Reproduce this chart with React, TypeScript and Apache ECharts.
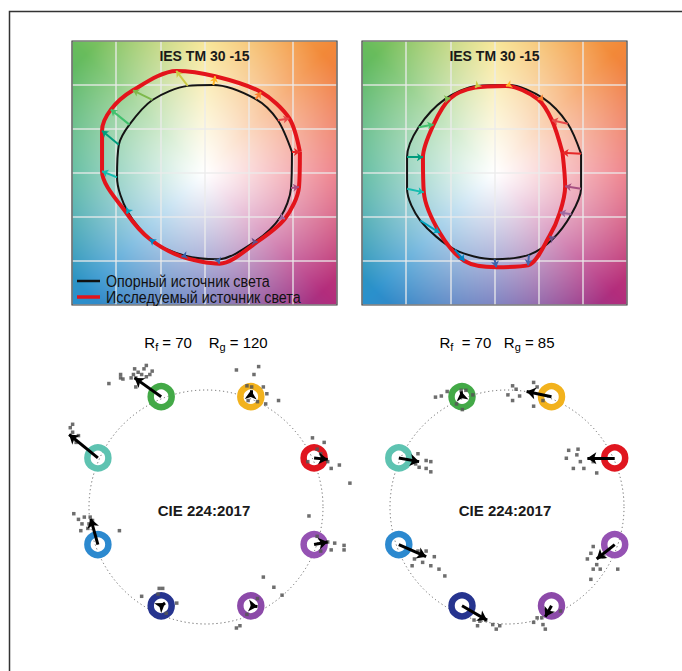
import React, { useEffect, useRef } from "react";
import * as echarts from "echarts";

// ---------- TM-30 hue bins (16) ----------
const binColors = ["#e62828", "#e74b4b", "#fb812e", "#ffb529", "#cbca46", "#7eb94c", "#41c06d", "#009c7c", "#16bcb0", "#00a4bf", "#0085c3", "#3b62aa", "#4568ae", "#6a4e85", "#9d69a1", "#a74f81"];

// left TM-30 panel (reference = black, test = red)
const leftRefX = [0.99, 0.83, 0.58, 0.1, -0.19, -0.59, -0.85, -0.97, -0.99, -0.87, -0.58, -0.22, 0.15, 0.57, 0.86, 0.98];
const leftRefY = [0.24, 0.6, 0.84, 1.0, 0.99, 0.83, 0.55, 0.32, -0.05, -0.44, -0.78, -0.94, -0.98, -0.78, -0.5, -0.17];
const leftTestX = [1.08, 0.96, 0.64, 0.12, -0.32, -0.81, -1.06, -1.16, -1.16, -0.88, -0.62, -0.26, 0.17, 0.6, 0.91, 1.07];
const leftTestY = [0.24, 0.62, 0.92, 1.1, 1.16, 0.94, 0.72, 0.48, 0.02, -0.46, -0.75, -0.95, -1.03, -0.78, -0.52, -0.16];

// right TM-30 panel
const rightRefX = [0.98, 0.83, 0.55, 0.16, -0.2, -0.56, -0.86, -0.99, -0.99, -0.84, -0.45, 0.0, 0.39, 0.66, 0.87, 0.98];
const rightRefY = [0.22, 0.56, 0.85, 1.0, 0.99, 0.84, 0.52, 0.18, -0.18, -0.54, -0.87, -0.98, -0.93, -0.75, -0.47, -0.18];
const rightTestX = [0.77, 0.65, 0.49, 0.13, -0.22, -0.5, -0.69, -0.81, -0.8, -0.62, -0.34, 0.02, 0.38, 0.62, 0.74, 0.8];
const rightTestY = [0.23, 0.6, 0.84, 0.99, 0.97, 0.85, 0.55, 0.18, -0.22, -0.68, -1.0, -1.07, -1.05, -0.72, -0.45, -0.15];

// ---------- CIE 224:2017 (8 hue rings) ----------
const ringX = [0.924, 0.383, -0.383, -0.924, -0.924, -0.383, 0.383, 0.924];
const ringY = [0.383, 0.924, 0.924, 0.383, -0.383, -0.924, -0.924, -0.383];
const ringColors = ["#e0161f", "#f2b21d", "#43a947", "#5ec3b1", "#2c89cf", "#26348f", "#8c4aa9", "#9552b3"];

const cieLeftEndX = [1.04, 0.385, -0.61, -1.17, -0.985, -0.35, 0.44, 1.04];
const cieLeftEndY = [0.37, 0.98, 1.09, 0.59, -0.155, -0.9, -0.93, -0.36];
const cieRightEndX = [0.69, 0.17, -0.39, -0.75, -0.69, -0.17, 0.33, 0.77];
const cieRightEndY = [0.38, 0.97, 0.97, 0.35, -0.49, -1.05, -1.02, -0.51];

const dotsLeftX = [
  -0.83, -0.73, -0.73, -0.64, -0.62, -0.6, -0.58, -0.53, -0.51, -0.46, -0.48, -0.55, -0.6, -0.51, -0.61, -0.71,
  0.26, 0.45, 0.41, 0.35, 0.39, 0.49, 0.52, 0.51, 0.62, 0.44, 0.36,
  0.91, 1.01, 0.95, 0.98, 1.04, 1.07, 1.14, 1.23, 0.87,
  0.88, 0.95, 1.04, 1.1, 1.07, 1.18, 1.18, 0.98,
  0.49, 0.58, 0.65, 0.26, 0.29, 0.35, 0.44,
  -0.4, -0.37, -0.55, -0.41, -0.25, -0.34,
  -1.13, -1.09, -1.04, -1.06, -1.0, -1.01, -0.97, -1.07, -0.74, -0.99,
  -1.14, -1.16, -1.14, -1.13, -1.11, -1.09,
];
const dotsLeftY = [
  1.04, 1.12, 1.09, 1.09, 1.12, 1.09, 1.14, 1.17, 1.2, 1.15, 1.12, 1.12, 1.01, 1.1, 1.17, 1.08,
  1.16, 1.19, 1.12, 1.02, 1.01, 1.01, 0.95, 0.86, 0.89, 0.88, 0.89,
  0.56, 0.52, 0.46, 0.42, 0.35, 0.29, 0.32, 0.16, 0.35,
  -0.13, -0.31, -0.36, -0.37, -0.43, -0.43, -0.39, -0.44,
  -0.67, -0.76, -0.83, -1.12, -1.1, -1.0, -0.86,
  -0.77, -0.77, -0.84, -0.82, -0.9, -0.99,
  -0.11, -0.16, -0.14, -0.2, -0.2, -0.24, -0.17, -0.26, -0.26, -0.14,
  0.68, 0.65, 0.61, 0.56, 0.52, 0.58,
];
const dotsRightX = [
  -0.61, -0.56, -0.51, -0.39, -0.35, -0.29, -0.38, -0.43,
  0.05, 0.08, 0.01, 0.05, 0.11, 0.23, 0.26, 0.23, 0.31,
  0.53, 0.61, 0.51, 0.6, 0.63, 0.57, 0.66, 0.77, 0.74,
  0.74, 0.72, 0.69, 0.77, 0.74, 0.8, 0.72, 0.95, 0.83,
  0.23, 0.26, 0.3, 0.33, 0.31, 0.46,
  -0.28, -0.23, -0.18, -0.12, -0.06, -0.25, -0.09,
  -0.76, -0.69, -0.62, -0.79, -0.72, -0.65, -0.58, -0.53, -0.81,
  -0.76, -0.69, -0.65, -0.75, -0.69, -0.65, -0.78,
];
const dotsRightY = [
  0.92, 0.93, 0.97, 0.98, 0.98, 0.94, 0.81, 0.86,
  1.02, 0.99, 0.94, 0.89, 0.93, 1.05, 1.01, 0.84, 0.89,
  0.45, 0.46, 0.38, 0.41, 0.35, 0.29, 0.29, 0.25, 0.35,
  -0.4, -0.46, -0.51, -0.56, -0.6, -0.6, -0.69, -0.6, -0.49,
  -1.07, -1.03, -1.03, -1.13, -1.09, -0.97,
  -1.05, -1.06, -1.05, -1.09, -1.1, -1.1, -1.13,
  -0.44, -0.44, -0.49, -0.51, -0.54, -0.57, -0.6, -0.66, -0.57,
  0.42, 0.36, 0.35, 0.3, 0.29, 0.26, 0.33,
];

// background hue anchors (0°, 45°, ... 315°, counter-clockwise from +x)
const bgAnchors = [
  [234, 96, 108], [242, 136, 56], [246, 224, 122], [104, 188, 92],
  [58, 172, 138], [42, 144, 204], [88, 96, 176], [178, 44, 124],
];

function makeBackground(w: number, h: number): string {
  const c = document.createElement("canvas");
  c.width = w;
  c.height = h;
  const ctx = c.getContext("2d")!;
  const img = ctx.createImageData(w, h);
  for (let py = 0; py < h; py++) {
    for (let px = 0; px < w; px++) {
      const ux = (px + 0.5 - w / 2) / (w / 3);
      const uy = (h / 2 - py - 0.5) / (h / 3);
      const d = Math.sqrt(ux * ux + uy * uy);
      let ang = (Math.atan2(uy, ux) * 180) / Math.PI;
      if (ang < 0) ang += 360;
      const i = Math.floor(ang / 45) % 8;
      const t = (ang - i * 45) / 45;
      const a = bgAnchors[i];
      const b = bgAnchors[(i + 1) % 8];
      const m = Math.pow(Math.min(1, d / 1.9), 1.1);
      const k = (py * w + px) * 4;
      for (let ch = 0; ch < 3; ch++) {
        const col = a[ch] + (b[ch] - a[ch]) * t;
        img.data[k + ch] = Math.round(255 * (1 - m) + col * m);
      }
      img.data[k + 3] = 255;
    }
  }
  ctx.putImageData(img, 0, 0);
  return c.toDataURL();
}

const closed = (xs: number[], ys: number[]) => {
  const pts = xs.map((x, i) => [x, ys[i]]);
  pts.push([xs[0], ys[0]]);
  return pts;
};

const panelAxis = (gridIndex: number) => ({
  type: "value",
  gridIndex,
  min: -1.5,
  max: 1.5,
  interval: 0.5,
  axisLabel: { show: false },
  axisTick: { show: false },
  axisLine: { show: false },
  splitLine: { show: true, lineStyle: { color: "rgba(235,235,235,0.65)", width: 2 } },
});

const hiddenAxis = (gridIndex: number) => ({
  type: "value",
  gridIndex,
  min: -1.5,
  max: 1.5,
  show: false,
});

export default function App() {
  const ref = useRef<HTMLDivElement>(null);

  useEffect(() => {
    if (!ref.current) return;
    const chart = echarts.init(ref.current, undefined, { renderer: "svg" });
    const bg = makeBackground(265, 264);

    const series: any[] = [];
    const panels = [
      { rx: leftRefX, ry: leftRefY, tx: leftTestX, ty: leftTestY },
      { rx: rightRefX, ry: rightRefY, tx: rightTestX, ty: rightTestY },
    ];
    panels.forEach((p, gi) => {
      series.push({
        type: "line",
        xAxisIndex: gi,
        yAxisIndex: gi,
        data: closed(p.rx, p.ry),
        symbol: "none",
        smooth: 0.3,
        silent: true,
        lineStyle: { color: "#141414", width: 2 },
        z: 3,
      });
      series.push({
        type: "line",
        xAxisIndex: gi,
        yAxisIndex: gi,
        data: closed(p.tx, p.ty),
        symbol: "none",
        smooth: 0.3,
        silent: true,
        lineStyle: { color: "#e3141b", width: 4 },
        z: 4,
      });
      series.push({
        type: "lines",
        coordinateSystem: "cartesian2d",
        xAxisIndex: gi,
        yAxisIndex: gi,
        silent: true,
        symbol: ["none", "arrow"],
        symbolSize: 6,
        lineStyle: { width: 2, opacity: 1 },
        z: 5,
        data: p.rx.map((x, k) => ({
          coords: [[x, p.ry[k]], [p.tx[k], p.ty[k]]],
          lineStyle: { color: binColors[k] },
        })),
      });
    });

    const cies = [
      { ex: cieLeftEndX, ey: cieLeftEndY, dx: dotsLeftX, dy: dotsLeftY },
      { ex: cieRightEndX, ey: cieRightEndY, dx: dotsRightX, dy: dotsRightY },
    ];
    cies.forEach((c, j) => {
      const gi = j + 2;
      series.push({
        type: "scatter",
        xAxisIndex: gi,
        yAxisIndex: gi,
        silent: true,
        symbol: "circle",
        symbolSize: 21,
        z: 2,
        itemStyle: { color: "rgba(255,255,255,0)", borderWidth: 6.5, opacity: 1 },
        data: ringX.map((x, k) => ({ value: [x, ringY[k]], itemStyle: { borderColor: ringColors[k] } })),
      });
      series.push({
        type: "scatter",
        xAxisIndex: gi,
        yAxisIndex: gi,
        silent: true,
        symbol: "rect",
        symbolSize: 3.5,
        z: 3,
        itemStyle: { color: "#555", opacity: 0.85 },
        data: c.dx.map((x, k) => [x, c.dy[k]]),
      });
      series.push({
        type: "lines",
        coordinateSystem: "cartesian2d",
        xAxisIndex: gi,
        yAxisIndex: gi,
        silent: true,
        symbol: ["none", "arrow"],
        symbolSize: 9,
        z: 4,
        lineStyle: { color: "#000", width: 3, opacity: 1 },
        data: ringX.map((x, k) => ({ coords: [[x, ringY[k]], [c.ex[k], c.ey[k]]] })),
      });
    });

    const titleFont = 'bold 14px "Liberation Sans", Arial, sans-serif';
    const legendFont = '17px "Liberation Sans", Arial, sans-serif';
    const richStyle = {
      r: { fontSize: 15, lineHeight: 20, fontFamily: '"Liberation Sans", Arial, sans-serif', color: "#222", verticalAlign: "middle" },
      s: { fontSize: 11, lineHeight: 11, fontFamily: '"Liberation Sans", Arial, sans-serif', color: "#222", verticalAlign: "bottom" },
    };

    const option: any = {
      animation: false,
      backgroundColor: "#ffffff",
      grid: [
        { left: 72, top: 41, width: 265, height: 264 },
        { left: 362, top: 41, width: 265, height: 264 },
        { left: 206 - 175.5, top: 507 - 175.5, width: 351, height: 351 },
        { left: 507 - 175.5, top: 507 - 175.5, width: 351, height: 351 },
      ],
      xAxis: [panelAxis(0), panelAxis(1), hiddenAxis(2), hiddenAxis(3)],
      yAxis: [panelAxis(0), panelAxis(1), hiddenAxis(2), hiddenAxis(3)],
      polar: [
        { center: [206, 507], radius: 117 },
        { center: [507, 507], radius: 117 },
      ],
      angleAxis: [0, 1].map((pi) => ({
        polarIndex: pi,
        type: "value",
        min: 0,
        max: 360,
        silent: true,
        axisLine: { show: true, lineStyle: { color: "#666", width: 1, type: [1.2, 2.8] } },
        axisTick: { show: false },
        axisLabel: { show: false },
        splitLine: { show: false },
      })),
      radiusAxis: [0, 1].map((pi) => ({ polarIndex: pi, type: "value", min: 0, max: 1, show: false })),
      graphic: [
        { type: "image", x: 72, y: 41, z: -1, silent: true, style: { image: bg, x: 0, y: 0, width: 265, height: 264 } },
        { type: "image", x: 362, y: 41, z: -1, silent: true, style: { image: bg, x: 0, y: 0, width: 265, height: 264 } },
        { type: "rect", z: 10, silent: true, shape: { x: 72, y: 41, width: 265, height: 264 }, style: { fill: "none", stroke: "#444", lineWidth: 1.2 } },
        { type: "rect", z: 10, silent: true, shape: { x: 362, y: 41, width: 265, height: 264 }, style: { fill: "none", stroke: "#444", lineWidth: 1.2 } },
        { type: "rect", z: 10, silent: true, shape: { x: 9.5, y: 11.5, width: 720, height: 720 }, style: { fill: "none", stroke: "#333", lineWidth: 1.5 } },
        { type: "text", z: 10, silent: true, x: 204.5, y: 56, style: { text: "IES TM 30 -15", font: titleFont, fill: "#1a1a1a", textAlign: "center", textVerticalAlign: "middle" } },
        { type: "text", z: 10, silent: true, x: 494.5, y: 56, style: { text: "IES TM 30 -15", font: titleFont, fill: "#1a1a1a", textAlign: "center", textVerticalAlign: "middle" } },
        { type: "line", z: 10, silent: true, shape: { x1: 77, y1: 281, x2: 100, y2: 281 }, style: { stroke: "#111", lineWidth: 2.5 } },
        { type: "line", z: 10, silent: true, shape: { x1: 77, y1: 297, x2: 100, y2: 297 }, style: { stroke: "#e3141b", lineWidth: 3.5 } },
        { type: "text", z: 10, silent: true, x: 106, y: 281, scaleX: 0.84, style: { text: "Опорный источник света", font: legendFont, fill: "#111", textAlign: "left", textVerticalAlign: "middle" } },
        { type: "text", z: 10, silent: true, x: 106, y: 297, scaleX: 0.84, style: { text: "Исследуемый источник света", font: legendFont, fill: "#111", textAlign: "left", textVerticalAlign: "middle" } },
        { type: "text", z: 10, silent: true, x: 206, y: 342, style: { text: "{r|R}{s|f}{r| = 70    R}{s|g}{r| = 120}", rich: richStyle, textAlign: "center", textVerticalAlign: "middle" } },
        { type: "text", z: 10, silent: true, x: 497, y: 342, style: { text: "{r|R}{s|f}{r|  = 70   R}{s|g}{r| = 85}", rich: richStyle, textAlign: "center", textVerticalAlign: "middle" } },
        { type: "text", z: 10, silent: true, x: 204, y: 510, style: { text: "CIE 224:2017", font: 'bold 15px "Liberation Sans", Arial, sans-serif', fill: "#1a1a1a", textAlign: "center", textVerticalAlign: "middle" } },
        { type: "text", z: 10, silent: true, x: 505, y: 510, style: { text: "CIE 224:2017", font: 'bold 15px "Liberation Sans", Arial, sans-serif', fill: "#1a1a1a", textAlign: "center", textVerticalAlign: "middle" } },
      ],
      series,
    };
    chart.setOption(option);
    return () => chart.dispose();
  }, []);

  return <div ref={ref} style={{ position: "absolute", left: 0, top: 0, width: 682, height: 671 }} />;
}
